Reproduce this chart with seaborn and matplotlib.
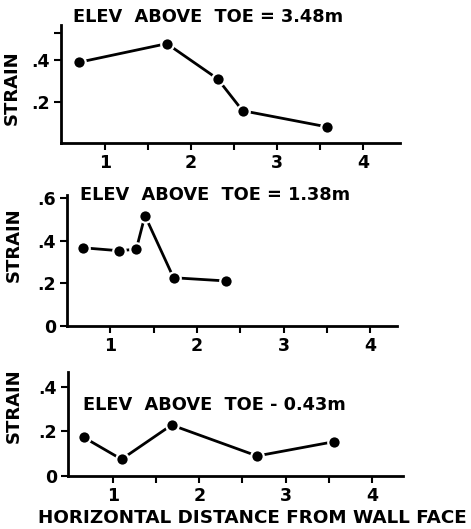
import matplotlib
matplotlib.use("Agg")
import matplotlib.pyplot as plt
import seaborn as sns
import pandas as pd

# ------------------------------------------------------------
# data
# ------------------------------------------------------------
dist_348 = [0.70, 1.72, 2.31, 2.60, 3.58]
strain_348 = [0.39, 0.48, 0.31, 0.156, 0.078]

dist_138 = [0.68, 1.10, 1.30, 1.40, 1.73, 2.33]
strain_138 = [0.368, 0.354, 0.361, 0.519, 0.227, 0.212]

dist_043 = [0.66, 1.10, 1.68, 2.67, 3.56]
strain_043 = [0.174, 0.075, 0.229, 0.090, 0.154]

titles = ["ELEV  ABOVE  TOE = 3.48m", "ELEV  ABOVE  TOE = 1.38m", "ELEV  ABOVE  TOE - 0.43m"]
x_ticks = [1, 2, 3, 4]
x_ticklabels = ["1", "2", "3", "4"]
y_ticks = [[0.2, 0.4, 0.53], [0.0, 0.2, 0.4, 0.6], [0.0, 0.2, 0.4]]
y_ticklabels = [[".2", ".4", ""], ["0", ".2", ".4", ".6"], ["0", ".2", ".4"]]

sns.set_style("ticks")
plt.rcParams['font.family'] = ['DejaVu Sans']
plt.rcParams['font.weight'] = 'bold'
plt.rcParams['text.color'] = 'black'
plt.rcParams['axes.labelcolor'] = 'black'

fig = plt.figure(figsize=(4.71, 5.29), dpi=100)
W, H = 471, 529

def box(l, r, b, t):
    return [l / W, 1 - b / H, (r - l) / W, (b - t) / H]

axes = [
    fig.add_axes(box(61, 400, 143, 25)),
    fig.add_axes(box(67, 397, 326, 195)),
    fig.add_axes(box(68, 403, 476, 372)),
]
series = [(dist_348, strain_348), (dist_138, strain_138), (dist_043, strain_043)]
xlims = [(0.49, 4.43), (0.50, 4.31), (0.48, 4.36)]
ylims = [(0.0, 0.57), (0.0, 0.616), (0.0, 0.467)]
title_pos = [(0.035, 1.07), (0.04, 1.0), (0.045, 0.68)]
ylab_pos = [(-0.12, 0.47), (-0.135, 0.62), (-0.135, 0.68)]

for i, ax in enumerate(axes):
    df = pd.DataFrame({"dist": series[i][0], "strain": series[i][1]})
    sns.lineplot(data=df, x="dist", y="strain", ax=ax, color="black", lw=2.0,
                 marker="o", markersize=9, markerfacecolor="black",
                 markeredgecolor="white", markeredgewidth=1.6, sort=False)
    ax.set_xlim(*xlims[i])
    ax.set_ylim(*ylims[i])
    ax.set_xticks(x_ticks)
    ax.set_xticklabels(x_ticklabels, fontsize=12.5, fontweight='bold')
    ax.set_xticks([1.5, 2.5, 3.5], minor=True)
    ax.set_yticks(y_ticks[i])
    ax.set_yticklabels(y_ticklabels[i], fontsize=12.5, fontweight='bold')
    ax.tick_params(axis='both', which='both', direction='out', width=1.5,
                   length=5, pad=3, colors='black')
    sns.despine(ax=ax)
    for s in ["left", "bottom"]:
        ax.spines[s].set_linewidth(2.0)
        ax.spines[s].set_color("black")
    ax.set_xlabel("")
    ax.set_ylabel("STRAIN", fontsize=13, fontweight='bold')
    ax.yaxis.set_label_coords(*ylab_pos[i])
    ax.text(title_pos[i][0], title_pos[i][1], titles[i], transform=ax.transAxes,
            fontsize=12.8, fontweight='bold', ha='left', va='center')

fig.text(252 / W, 1 - 518 / H, "HORIZONTAL DISTANCE FROM WALL FACE",
         fontsize=13.2, fontweight='bold', ha='center', va='center')

fig.savefig("out.png", dpi=100)
